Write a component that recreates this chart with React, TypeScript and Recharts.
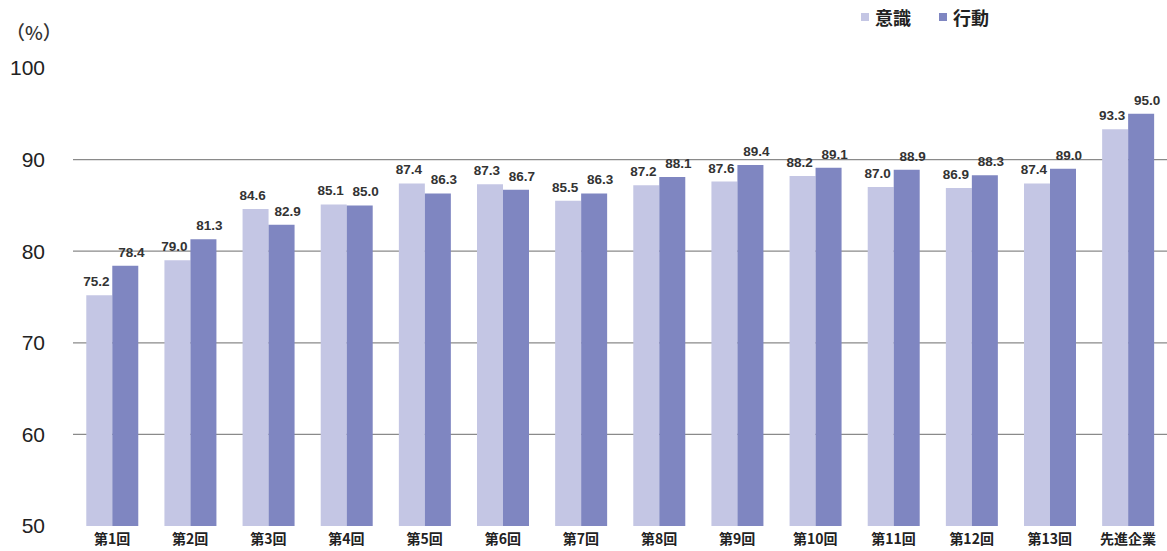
import React from 'react';
import { BarChart, Bar, XAxis, YAxis, CartesianGrid, LabelList } from 'recharts';

const categories = ['第1回', '第2回', '第3回', '第4回', '第5回', '第6回', '第7回', '第8回', '第9回', '第10回', '第11回', '第12回', '第13回', '先進企業'];
const ishiki = [75.2, 79.0, 84.6, 85.1, 87.4, 87.3, 85.5, 87.2, 87.6, 88.2, 87.0, 86.9, 87.4, 93.3];
const kodo = [78.4, 81.3, 82.9, 85.0, 86.3, 86.7, 86.3, 88.1, 89.4, 89.1, 88.9, 88.3, 89.0, 95.0];
const yTicks = [50, 60, 70, 80, 90, 100];
const gridValues = [60, 70, 80, 90];

const LIGHT = '#c4c6e4';
const DARK = '#7f86c1';

const data = categories.map((name, i) => ({ name, ishiki: ishiki[i], kodo: kodo[i] }));

const font = '"Liberation Sans", Arial, sans-serif';
const jpFont = '"Noto Sans CJK JP", sans-serif';
const labelStyle = { fontFamily: font, fontSize: 13.5, fontWeight: 700, fill: '#333' };

export default function App() {
  return (
    <div style={{ position: 'absolute', left: 0, top: 0, width: 1167, height: 551, background: '#fff' }}>
      <div style={{ position: 'absolute', left: 6, top: 18, fontFamily: jpFont, fontSize: 19, fontWeight: 500, color: '#333' }}>（%）</div>
      <div style={{ position: 'absolute', left: 861, top: 4, display: 'flex', gap: 28, fontFamily: jpFont, fontSize: 18, fontWeight: 700, color: '#222' }}>
        <span style={{ display: 'flex', alignItems: 'center' }}>
          <span style={{ width: 8, height: 8, background: LIGHT, marginRight: 6 }} />意識
        </span>
        <span style={{ display: 'flex', alignItems: 'center' }}>
          <span style={{ width: 8, height: 8, background: DARK, marginRight: 6 }} />行動
        </span>
      </div>
      <BarChart
        width={1167}
        height={551}
        data={data}
        margin={{ top: 68, right: 0, bottom: 0, left: 0 }}
        barGap={0}
        barCategoryGap="17%"
      >
        <CartesianGrid vertical={false} horizontalValues={gridValues} stroke="#8a8a8a" strokeWidth={1.2} />
        <XAxis
          dataKey="name"
          height={25}
          axisLine={false}
          tickLine={false}
          interval={0}
          tick={{ fontFamily: jpFont, fontSize: 14, fontWeight: 700, fill: '#222' }}
          tickMargin={2}
        />
        <YAxis
          domain={[50, 100]}
          ticks={yTicks}
          width={73}
          axisLine={false}
          tickLine={false}
          tick={{ fontFamily: font, fontSize: 21, fill: '#222' }}
          tickMargin={22}
        />
        <Bar dataKey="ishiki" name="意識" fill={LIGHT} isAnimationActive={false}>
          <LabelList dataKey="ishiki" position="top" offset={9} dx={-3} formatter={(v: number) => v.toFixed(1)} style={labelStyle} />
        </Bar>
        <Bar dataKey="kodo" name="行動" fill={DARK} isAnimationActive={false}>
          <LabelList dataKey="kodo" position="top" offset={9} dx={6} formatter={(v: number) => v.toFixed(1)} style={labelStyle} />
        </Bar>
      </BarChart>
    </div>
  );
}
